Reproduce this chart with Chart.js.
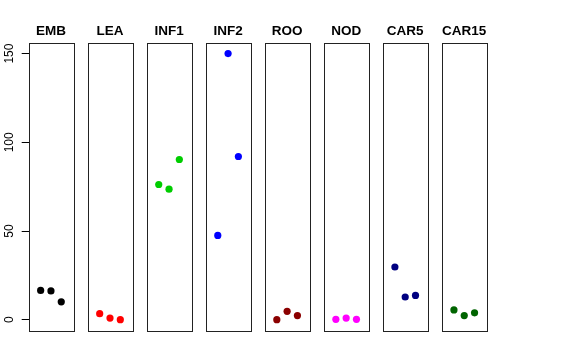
<!DOCTYPE html>
<html>
<head>
<meta charset="utf-8">
<script src="https://cdn.jsdelivr.net/npm/chart.js@4"></script>
<style>
  html, body { margin: 0; padding: 0; background: #fff; }
  canvas { display: block; }
</style>
</head>
<body>
<canvas id="grafik" width="576" height="360"></canvas>
<script>
// nama panel
var categories = ['EMB', 'LEA', 'INF1', 'INF2', 'ROO', 'NOD', 'CAR5', 'CAR15'];

// nilai tiap panel (3 titik)
var embValues   = [16.5, 16.2, 10.1];
var leaValues   = [3.4, 0.9, 0.0];
var inf1Values  = [76.2, 73.6, 90.3];
var inf2Values  = [47.5, 150.0, 92.0];
var rooValues   = [0.0, 4.7, 2.3];
var nodValues   = [0.2, 0.9, 0.2];
var car5Values  = [29.7, 12.8, 13.7];
var car15Values = [5.5, 2.3, 3.9];

var yTicks = [0, 50, 100, 150];

var seriesValues = [embValues, leaValues, inf1Values, inf2Values, rooValues, nodValues, car5Values, car15Values];
var colors = ['#000000', '#FF0000', '#00CD00', '#0000FF', '#8B0000', '#FF00FF', '#000080', '#006400'];

// tiap panel punya rentang x sendiri, digeser sejauh PITCH
var PITCH = 5.73;
var XMIN = -0.16, XMAX = 4.16;

var datasets = seriesValues.map(function(vals, i) {
    return {
        label: categories[i],
        data: vals.map(function(v, j) { return { x: i * PITCH + (j + 1), y: v }; }),
        backgroundColor: colors[i],
        borderWidth: 0,
        pointRadius: 3.6,
        pointHoverRadius: 3.6
    };
});

// gambar kotak panel dan judul
var panelPlugin = {
    id: 'panels',
    beforeDatasetsDraw: function(chart) {
        var ctx = chart.ctx, xs = chart.scales.x, area = chart.chartArea;
        ctx.save();
        ctx.strokeStyle = '#222';
        ctx.lineWidth = 1;
        ctx.fillStyle = '#000';
        ctx.font = 'bold 13.5px "Liberation Sans", Arial, sans-serif';
        ctx.textAlign = 'center';
        ctx.textBaseline = 'alphabetic';
        categories.forEach(function(name, i) {
            var l = xs.getPixelForValue(i * PITCH + XMIN);
            var r = xs.getPixelForValue(i * PITCH + XMAX);
            ctx.strokeRect(Math.round(l) + 0.5, Math.round(area.top) + 0.5,
                Math.round(r - l), Math.round(area.bottom - area.top));
            ctx.fillText(name, (l + r) / 2, 34.5);
        });
        ctx.restore();
    }
};

var ctx = document.getElementById('grafik').getContext('2d');
var myChart = new Chart(ctx, {
    type: 'scatter',
    data: { datasets: datasets },
    plugins: [panelPlugin],
    options: {
        responsive: false,
        animation: false,
        devicePixelRatio: 1,
        layout: {
            padding: { left: 0, top: 42.6, right: 89.5, bottom: 29.3 }
        },
        plugins: {
            legend: { display: false },
            tooltip: { enabled: false }
        },
        scales: {
            x: {
                type: 'linear',
                display: false,
                min: XMIN,
                max: (categories.length - 1) * PITCH + XMAX
            },
            y: {
                type: 'linear',
                min: -6.2,
                max: 156.2,
                afterBuildTicks: function(scale) {
                    scale.ticks = yTicks.map(function(v) { return { value: v }; });
                },
                afterFit: function(scale) {
                    scale.width = 28.7;
                },
                border: { display: false },
                grid: {
                    drawOnChartArea: false,
                    drawTicks: true,
                    tickLength: 7,
                    color: '#000',
                    lineWidth: 1
                },
                ticks: {
                    color: '#000',
                    font: { family: '"Liberation Sans", Arial, sans-serif', size: 12 },
                    minRotation: 90,
                    maxRotation: 90,
                    crossAlign: 'center',
                    padding: 1.7
                }
            }
        }
    }
});
</script>
</body>
</html>
